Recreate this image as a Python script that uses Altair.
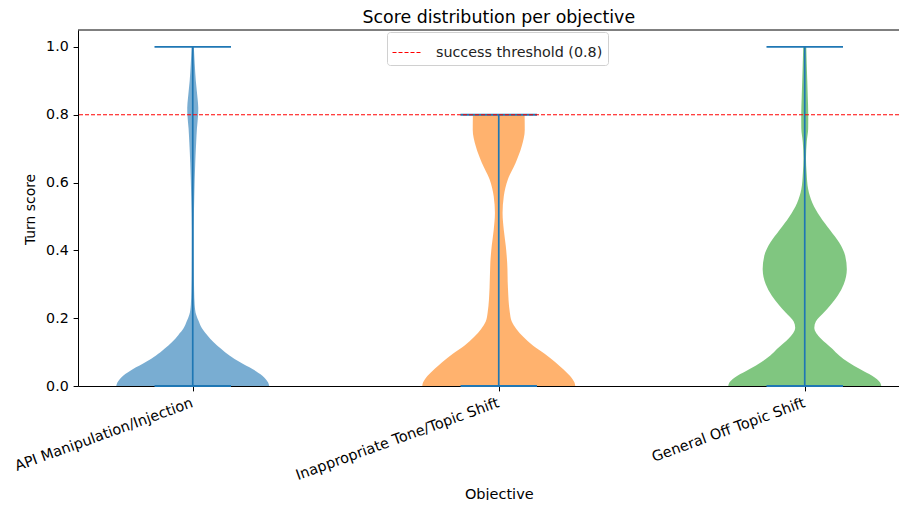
import json
import altair as alt
import pandas as pd

objectives = ["API Manipulation/Injection", "Inappropriate Tone/Topic Shift", "General Off Topic Shift"]
score_min = [0.0, 0.0, 0.0]
score_max = [1.0, 0.8, 1.0]
threshold = 0.8
threshold_label = "success threshold (0.8)"

# violin profiles: score -> relative half-width (1 = widest)
api_scores = [0.0, 0.01, 0.02, 0.03, 0.05, 0.07, 0.09, 0.11, 0.13, 0.15, 0.17, 0.19, 0.21, 0.24, 0.28, 0.35, 0.46, 0.56, 0.66, 0.72, 0.76, 0.8, 0.82, 0.85, 0.9, 0.95, 1.0]
api_width = [1.0, 0.985, 0.955, 0.91, 0.78, 0.62, 0.48, 0.37, 0.27, 0.19, 0.12, 0.08, 0.045, 0.025, 0.018, 0.014, 0.013, 0.02, 0.033, 0.045, 0.055, 0.07, 0.072, 0.062, 0.04, 0.026, 0.014]

tone_scores = [0.0, 0.01, 0.02, 0.03, 0.05, 0.07, 0.095, 0.119, 0.145, 0.168, 0.19, 0.217, 0.29, 0.364, 0.413, 0.46, 0.51, 0.56, 0.61, 0.658, 0.707, 0.756, 0.8]
tone_width = [1.0, 0.99, 0.965, 0.93, 0.84, 0.74, 0.6, 0.45, 0.32, 0.23, 0.17, 0.145, 0.12, 0.11, 0.092, 0.066, 0.05, 0.066, 0.12, 0.22, 0.3, 0.34, 0.338]

general_scores = [0.0, 0.01, 0.02, 0.03, 0.05, 0.07, 0.09, 0.11, 0.14, 0.172, 0.19, 0.217, 0.24, 0.266, 0.3, 0.344, 0.383, 0.423, 0.46, 0.5, 0.54, 0.58, 0.63, 0.67, 0.72, 0.76, 0.8, 0.85, 0.9, 0.95, 1.0]
general_width = [1.0, 0.985, 0.945, 0.88, 0.72, 0.57, 0.45, 0.36, 0.21, 0.125, 0.145, 0.25, 0.34, 0.43, 0.51, 0.55, 0.53, 0.45, 0.33, 0.2, 0.1, 0.045, 0.024, 0.016, 0.026, 0.045, 0.046, 0.04, 0.033, 0.026, 0.02]

colors = ["#1f77b4", "#ff7f0e", "#2ca02c"]

profiles = [(api_scores, api_width), (tone_scores, tone_width), (general_scores, general_width)]
rows = []
for i, (s_list, w_list) in enumerate(profiles):
    for s, w in zip(s_list, w_list):
        rows.append({"objective": objectives[i], "pos": i + 1, "score": s, "w": w,
                     "lo": i + 1 - 0.25 * w, "hi": i + 1 + 0.25 * w})
violin_df = pd.DataFrame(rows)

stats_df = pd.DataFrame({"objective": objectives, "pos": [1, 2, 3], "smin": score_min, "smax": score_max})
stats_df["cl"] = stats_df["pos"] - 0.125
stats_df["cr"] = stats_df["pos"] + 0.125
thr_df = pd.DataFrame({"y": [threshold], "label": [threshold_label]})

W, H = 821, 356
UNIT = 306.0
xdom = [0.625, 0.625 + W / UNIT]
ydom = [0.0, 1.05]
FONT = "DejaVu Sans"
mid_x = (3.375 - 0.625) / 2 * UNIT  # centre of the full (clipped) axes

label_expr = f"{json.dumps(objectives)}[round(datum.value) - 1]"

xaxis = alt.Axis(values=[1, 2, 3], labelExpr=label_expr, labelAngle=-20, labelAlign="right",
                 labelBaseline="top", labelOffset=-3, title="Objective", grid=False, labelLimit=0,
                 labelFontSize=14.5, titleFontSize=14.5,
                 titleX=mid_x, titleY=112, titleBaseline="alphabetic", titleAlign="center")
yaxis = alt.Axis(values=[0.0, 0.2, 0.4, 0.6, 0.8, 1.0], format=".1f", title="Turn score", grid=False,
                 labelFontSize=14.2, titleFontSize=13.9,
                 titleX=-43.5, titleY=H / 2 + 1, titleBaseline="alphabetic", titleAlign="center", titleAngle=270)

xs = alt.Scale(domain=xdom, nice=False, zero=False)
ys = alt.Scale(domain=ydom, nice=False, zero=False)

violin_layers = []
for i, obj in enumerate(objectives):
    v = alt.Chart(violin_df).transform_filter(alt.datum.objective == obj).mark_area(
        orient="horizontal", interpolate="monotone", opacity=0.6, color=colors[i]
    ).encode(
        y=alt.Y("score:Q", scale=ys, axis=yaxis),
        x=alt.X("lo:Q", scale=xs, axis=xaxis),
        x2="hi:Q",
    )
    violin_layers.append(v)

center = alt.Chart(stats_df).mark_rule(color="#1f77b4", strokeWidth=1.7).encode(
    x=alt.X("pos:Q", scale=xs, axis=xaxis), y=alt.Y("smin:Q", scale=ys, axis=yaxis), y2="smax:Q"
)
caps_max = alt.Chart(stats_df).mark_rule(color="#1f77b4", strokeWidth=1.8).encode(
    x=alt.X("cl:Q", scale=xs, axis=xaxis), x2="cr:Q", y=alt.Y("smax:Q", scale=ys, axis=yaxis))
caps_min = alt.Chart(stats_df).mark_rule(color="#1f77b4", strokeWidth=1.8).encode(
    x=alt.X("cl:Q", scale=xs, axis=xaxis), x2="cr:Q", y=alt.Y("smin:Q", scale=ys, axis=yaxis))

thr = alt.Chart(thr_df).mark_rule(strokeDash=[4, 2], strokeWidth=1).encode(
    y=alt.Y("y:Q", scale=ys, axis=yaxis),
    color=alt.Color("label:N", scale=alt.Scale(domain=[threshold_label], range=["red"]),
                    legend=alt.Legend(title=None, orient="none", legendX=309, legendY=2,
                                      symbolType="stroke", symbolSize=900, symbolStrokeWidth=1,
                                      symbolDash=[4, 2], fillColor="white", strokeColor="#d0d0d0",
                                      cornerRadius=3, padding=5, labelOffset=13, labelLimit=0,
                                      labelFontSize=14.3, labelFont=FONT, labelColor="#222")),
)

top_border = alt.Chart(thr_df).mark_rule(color="black", strokeWidth=1).encode(
    x=alt.value(0), x2=alt.value(W), y=alt.value(0)
)

chart = alt.layer(*violin_layers, center, caps_max, caps_min, thr, top_border).properties(
    width=W, height=H,
    autosize=alt.AutoSizeParams(type="none"),
    padding={"left": 70, "top": 22, "right": 0, "bottom": 114},
    title=alt.TitleParams("Score distribution per objective", font=FONT, fontSize=17.4,
                          fontWeight="normal", anchor="middle", offset=7, frame="group",
                          dx=mid_x - W / 2, dy=4, color="black"),
).configure_view(stroke=None).configure_axis(
    labelFont=FONT, titleFont=FONT,
    titleFontWeight="normal", labelColor="black", titleColor="black",
    domainColor="black", tickColor="black", tickSize=4.9, labelPadding=4.9, domainWidth=1,
)

chart.save("out.html", embed_options={"renderer": "svg", "actions": False})
